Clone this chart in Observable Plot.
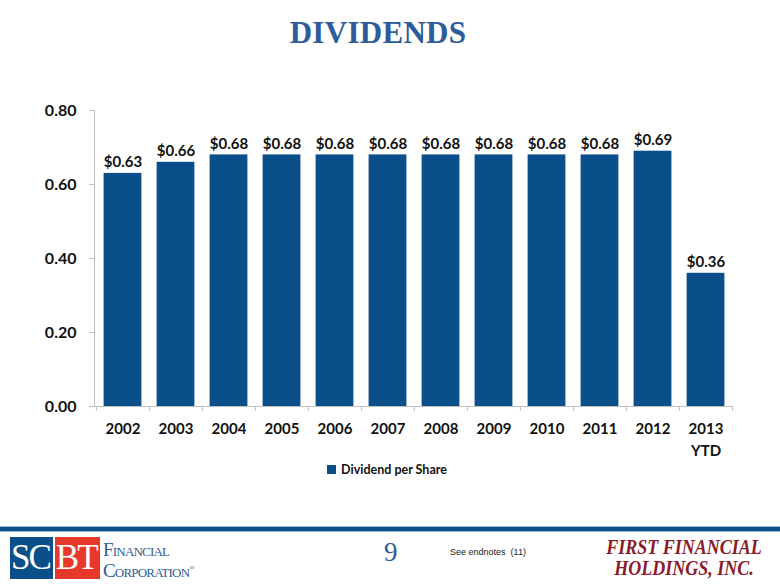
<!DOCTYPE html>
<html><head><meta charset="utf-8">
<script src="https://cdn.jsdelivr.net/npm/d3@7"></script>
<script src="https://cdn.jsdelivr.net/npm/@observablehq/plot@0.6"></script>
<style>
html,body{margin:0;padding:0;background:#fff;}
#page{position:relative;width:780px;height:585px;overflow:hidden;background:#fff;font-family:Lato,"Open Sans",sans-serif;}
#title{position:absolute;top:15px;left:-12px;width:780px;text-align:center;font-family:"Liberation Serif","DejaVu Serif",serif;font-weight:bold;font-size:31px;color:#2E5C9A;letter-spacing:0.3px;}
#chart{position:absolute;top:60px;left:0;}
#legend{position:absolute;top:462px;left:-3px;width:780px;text-align:center;font-family:Lato,sans-serif;font-weight:bold;font-size:12.5px;color:#111;}
#legend span.sw{display:inline-block;width:9px;height:9px;background:#0B4F8A;margin-right:5px;}
#rule{position:absolute;top:526px;left:0;width:780px;height:4px;background:#0B4F8A;border-top:1px solid #9fb7d3;border-bottom:1px solid #9fb7d3;}
#logoL{position:absolute;top:537px;left:10px;height:42px;display:flex;align-items:stretch;}
.blk{color:#fff;font-family:"Liberation Serif",serif;font-size:35px;line-height:42px;letter-spacing:-2px;padding:0 3px 0 1px;display:flex;align-items:center;justify-content:center;}
#sc{background:#0B4F8A;}
#bt{background:#E8372B;margin-left:2px;}
#corp{position:absolute;top:541px;left:103px;font-family:"Liberation Serif",serif;font-size:19px;line-height:18px;color:#2E5C9A;font-variant:small-caps;letter-spacing:-0.8px;}
#pnum{position:absolute;top:537px;left:384px;font-family:"Liberation Serif",serif;font-size:27px;color:#2E5C9A;}
#endn{position:absolute;top:547px;left:450px;font-family:"Liberation Sans",Arial,sans-serif;font-size:9px;color:#222;}
#logoR{position:absolute;top:537px;right:18px;text-align:center;font-family:"Liberation Serif",serif;font-style:italic;font-weight:bold;font-size:20px;line-height:21px;color:#8B1A2B;transform:scaleX(0.9);transform-origin:right;}
</style></head>
<body><div id="page">
<div id="title">DIVIDENDS</div>
<div id="chart"></div>
<div id="legend"><span class="sw"></span>Dividend per Share</div>
<div id="rule"></div>
<div id="logoL"><div class="blk" id="sc">SC</div><div class="blk" id="bt">BT</div></div>
<div id="corp">Financial<br>Corporation<sup style="font-size:7px">®</sup></div>
<div id="pnum">9</div>
<div id="endn">See endnotes &nbsp;(11)</div>
<div id="logoR">FIRST FINANCIAL<br>HOLDINGS, INC.</div>
</div>
<script>
const years = ["2002","2003","2004","2005","2006","2007","2008","2009","2010","2011","2012","2013"];
const yearLabels = ["2002","2003","2004","2005","2006","2007","2008","2009","2010","2011","2012","2013\nYTD"];
const dividends = [0.63,0.66,0.68,0.68,0.68,0.68,0.68,0.68,0.68,0.68,0.69,0.36];
const yTicks = [0,0.2,0.4,0.6,0.8];

const data = years.map((y,i)=>({year:y, value:dividends[i], label:"$"+dividends[i].toFixed(2)}));
const W = 780, ML = 94, MR = 47;
const step = (W - ML - MR) / years.length;
const labelOf = Object.fromEntries(years.map((y,i)=>[y, yearLabels[i]]));
const blue = "#0B4F8A", axisGray = "#BFBFBF";

const chart = Plot.plot({
  width: W, height: 406,
  marginLeft: ML, marginRight: MR, marginTop: 50, marginBottom: 60,
  style: {fontFamily: "Lato, 'Open Sans', sans-serif", fontWeight: "bold", color: "#111", background: "transparent"},
  x: {domain: years, padding: 0, axis: null, label: null},
  y: {domain: [0, 0.8], axis: null, label: null},
  marks: [
    Plot.barY(data, {x: "year", y: "value", fill: blue, insetLeft: 7.6, insetRight: 7.6}),
    Plot.text(data, {x: "year", y: "value", text: "label", dy: -6, lineAnchor: "bottom", fontSize: 15, fontWeight: "bold", fill: "#111"}),
    Plot.ruleY([0], {stroke: axisGray, strokeWidth: 1}),
    Plot.frame({anchor: "left", stroke: axisGray}),
    Plot.axisY({ticks: yTicks, tickFormat: d3.format(".2f"), tickSize: 5, tickPadding: 13, fontSize: 16, fontWeight: "bold", stroke: axisGray, fill: "#111", label: null}),
    Plot.axisX({ticks: years, tickFormat: d => labelOf[d], tickSize: 0, tickPadding: 12, fontSize: 15, fontWeight: "bold", fill: "#111", lineHeight: 1.45, label: null}),
    Plot.axisX({ticks: years, tickFormat: () => "", tickSize: 5, dx: -step/2, stroke: axisGray, label: null}),
    Plot.axisX({ticks: [years[years.length-1]], tickFormat: () => "", tickSize: 5, dx: step/2, stroke: axisGray, label: null})
  ]
});
document.getElementById("chart").appendChild(chart);
</script>
</body></html>
